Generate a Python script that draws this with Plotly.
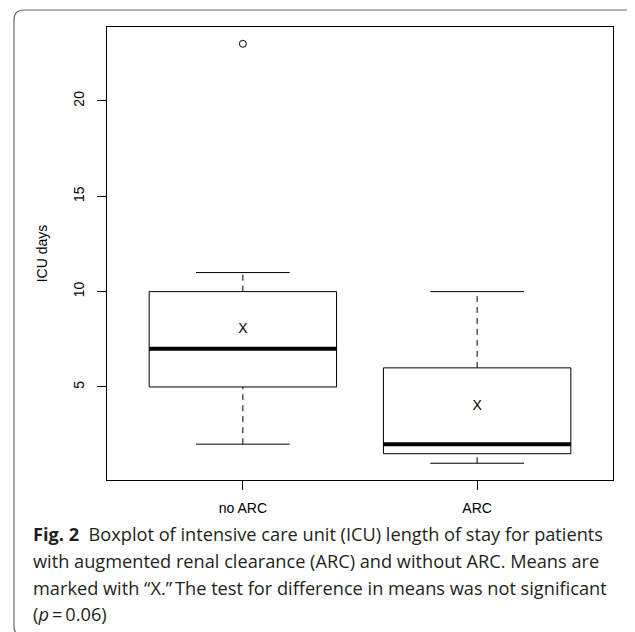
import plotly.graph_objects as go

# ---------------- data ----------------
categories = ["no ARC", "ARC"]
positions = [1, 2]
q1 = [5.0, 1.5]
medians = [7.0, 2.0]
q3 = [10.0, 6.0]
whisker_low = [2.0, 1.0]
whisker_high = [11.0, 10.0]
means = [8.0, 4.0]
outliers = [[23.0], []]
y_ticks = [5, 10, 15, 20]
y_title = "ICU days"
caption_lines = [
    "<b>Fig.\u00a02</b>\u00a0\u00a0Boxplot of intensive care unit (ICU) length of stay for patients",
    "with augmented renal clearance (ARC) and without ARC. Means are",
    "marked with \u201cX.\u201d\u2009The test for difference in means was not significant",
    "(<i>p</i>\u2009=\u20090.06)",
]

# ---------------- style / geometry ----------------
OFF = 8                                   # browser body margin
W, H = 635 - OFF, 632 - OFF
# plot area in reference-image pixels
RL, RR, RT, RB = 107, 613, 27, 480
PL, PR, PT, PB = RL - OFF, RR - OFF, RT - OFF, RB - OFF
BOX_HALF = 0.4
STAPLE_HALF = 0.2
AX_FONT = dict(family="Liberation Sans, Arial, sans-serif", size=14, color="black")
CAP_FONT = dict(family="Open Sans, Noto Sans, sans-serif", size=18.2, color="#231f20")


def px_x(p):
    """reference-image pixel x -> paper coordinate"""
    return (p - RL) / (RR - RL)


def px_y(p):
    """reference-image pixel y -> paper coordinate"""
    return (RB - p) / (RB - RT)


fig = go.Figure()

for i, pos in enumerate(positions):
    # dashed whiskers
    fig.add_trace(go.Scatter(
        x=[pos, pos, None, pos, pos],
        y=[whisker_low[i], q1[i], None, q3[i], whisker_high[i]],
        mode="lines", line=dict(color="black", width=1, dash="6px,5px"),
        hoverinfo="skip"))
    # staples
    fig.add_trace(go.Scatter(
        x=[pos - STAPLE_HALF, pos + STAPLE_HALF, None, pos - STAPLE_HALF, pos + STAPLE_HALF],
        y=[whisker_low[i], whisker_low[i], None, whisker_high[i], whisker_high[i]],
        mode="lines", line=dict(color="black", width=1), hoverinfo="skip"))
    # box
    fig.add_trace(go.Scatter(
        x=[pos - BOX_HALF, pos + BOX_HALF, pos + BOX_HALF, pos - BOX_HALF, pos - BOX_HALF],
        y=[q1[i], q1[i], q3[i], q3[i], q1[i]],
        mode="lines", fill="toself", fillcolor="white",
        line=dict(color="black", width=1), hoverinfo="skip"))
    # median
    fig.add_trace(go.Scatter(
        x=[pos - BOX_HALF, pos + BOX_HALF], y=[medians[i], medians[i]],
        mode="lines", line=dict(color="black", width=4), hoverinfo="skip"))
    # outliers
    if outliers[i]:
        fig.add_trace(go.Scatter(
            x=[pos] * len(outliers[i]), y=outliers[i], mode="markers",
            marker=dict(symbol="circle-open", size=7, color="black", line=dict(width=1)),
            hoverinfo="skip"))

# means marked with "X"
fig.add_trace(go.Scatter(
    x=positions, y=means, mode="text", text=["X"] * len(means),
    textposition="middle center", textfont=AX_FONT, hoverinfo="skip"))

axis_common = dict(
    showgrid=False, zeroline=False, showline=True, mirror=True,
    linecolor="black", linewidth=1, ticks="outside", ticklen=9,
    tickcolor="black", tickwidth=1, tickfont=AX_FONT, fixedrange=True,
)

fig.update_layout(
    width=W, height=H,
    margin=dict(l=PL, r=W - PR, t=PT, b=H - PB, autoexpand=False),
    paper_bgcolor="white", plot_bgcolor="white", showlegend=False,
    xaxis=dict(range=[0.42, 2.58], tickvals=positions, ticktext=categories,
               ticklabelstandoff=6, **axis_common),
    yaxis=dict(range=[0.12, 23.88], tickvals=y_ticks, tickangle=-90,
               ticklabelstandoff=7,
               title=dict(text=y_title, font=AX_FONT, standoff=20),
               **axis_common),
)

# caption
cap_y = [534, 560.5, 587.5, 614]
for line, yp in zip(caption_lines, cap_y):
    fig.add_annotation(
        text=line, xref="paper", yref="paper", x=px_x(31), y=px_y(yp),
        xanchor="left", yanchor="middle", showarrow=False, font=CAP_FONT, align="left")

# rounded outer frame (cropped on the right and bottom)
x0, x1 = px_x(14), px_x(637)
yt, yb = px_y(10), px_y(636)
rx, ry = 10 / (RR - RL), 10 / (RB - RT)
path = (f"M {x0 + rx},{yb} Q {x0},{yb} {x0},{yb + ry} "
        f"L {x0},{yt - ry} Q {x0},{yt} {x0 + rx},{yt} "
        f"L {x1 - rx},{yt} Q {x1},{yt} {x1},{yt - ry}")
fig.add_shape(type="path", path=path, xref="paper", yref="paper",
              line=dict(color="#6a6a6a", width=1.2), layer="below")

fig.write_html("out.html")
